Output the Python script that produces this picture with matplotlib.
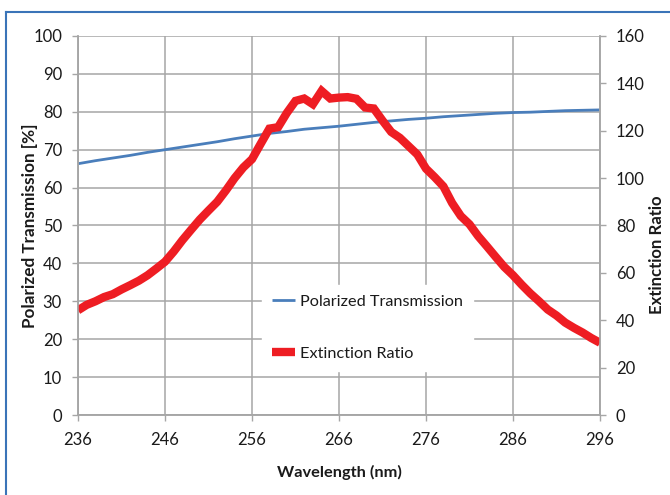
import matplotlib
matplotlib.use("Agg")
import matplotlib.pyplot as plt
from matplotlib.lines import Line2D

plt.rcParams['font.family'] = ['Lato', 'DejaVu Sans']

# ---- data ----
wl_pt = [236, 238, 240, 242, 244, 246, 248, 250, 252, 254, 256, 258, 260, 262,
         264, 266, 268, 270, 272, 274, 276, 278, 280, 282, 284, 286, 288, 290,
         292, 294, 296]
pol_trans = [66.3, 67.1, 67.8, 68.5, 69.3, 70.0, 70.7, 71.4, 72.1, 72.9, 73.6,
             74.3, 74.8, 75.4, 75.8, 76.2, 76.7, 77.2, 77.6, 78.0, 78.3, 78.7,
             79.0, 79.3, 79.6, 79.8, 79.9, 80.1, 80.3, 80.4, 80.5]

wl_er = [236, 237, 238, 239, 240, 241, 242, 243, 244, 245, 246, 247, 248, 249,
         250, 251, 252, 253, 254, 255, 256, 257, 258, 259, 260, 261, 262, 263,
         264, 265, 266, 267, 268, 269, 270, 271, 272, 273, 274, 275, 276, 277,
         278, 279, 280, 281, 282, 283, 284, 285, 286, 287, 288, 289, 290, 291,
         292, 293, 294, 295, 296]
ext_ratio = [44.2, 46.5, 48.0, 49.8, 51.0, 53.0, 54.8, 56.7, 59.0, 61.8, 64.7,
             69.0, 73.8, 78.2, 82.5, 86.3, 90.0, 94.8, 100.0, 104.5, 108.0,
             114.5, 120.9, 121.5, 127.5, 132.6, 133.6, 131.2, 136.8, 133.6,
             134.0, 134.2, 133.5, 129.8, 129.4, 124.3, 119.5, 117.0, 113.5,
             110.0, 104.0, 100.4, 96.5, 89.5, 84.0, 80.5, 75.5, 71.2, 66.8,
             62.5, 59.0, 55.0, 51.3, 48.0, 44.5, 42.0, 39.0, 36.8, 34.8, 32.5,
             30.5]

x_ticks = [236, 246, 256, 266, 276, 286, 296]
y_ticks = [0, 10, 20, 30, 40, 50, 60, 70, 80, 90, 100]
y2_ticks = [0, 20, 40, 60, 80, 100, 120, 140, 160]

blue = '#4a7ebb'
red = '#ee1d23'
grid_c = '#a6a6a6'
txt_c = '#1a1a1a'

fig = plt.figure(figsize=(6.7, 4.95), dpi=100)
ax = fig.add_axes([78/670, 1-415/495, 522/670, 379/495])
ax2 = ax.twinx()

ax.plot(wl_pt, pol_trans, color=blue, lw=2.0, label='Polarized Transmission',
        solid_capstyle='butt')
ax2.plot(wl_er, ext_ratio, color=red, lw=6.0, label='Extinction Ratio',
         solid_joinstyle='miter', solid_capstyle='butt')

ax.set_xlim(236, 296)
ax.set_ylim(0, 100)
ax2.set_ylim(0, 160)
ax.set_xticks(x_ticks)
ax.set_yticks(y_ticks)
ax2.set_yticks(y2_ticks)

ax.grid(True, color=grid_c, lw=1.1)
ax.set_axisbelow(True)

for a in (ax, ax2):
    for s in a.spines.values():
        s.set_color(grid_c)
        s.set_linewidth(1.1)
    a.spines['top'].set_visible(False)

ax.tick_params(axis='both', colors=grid_c, labelcolor=txt_c, labelsize=12,
               length=4.5, width=1.0)
ax.tick_params(axis='y', pad=7)
ax.tick_params(axis='x', pad=8)
ax2.tick_params(axis='y', colors=grid_c, labelcolor=txt_c, labelsize=12,
                length=4.5, width=1.0, pad=7)

ax.set_xlabel('Wavelength (nm)', fontsize=11.8, fontweight='bold', color=txt_c)
ax.xaxis.set_label_coords(0.5, -(472-415)/379)
ax.set_ylabel('Polarized Transmission [%]', fontsize=12.3, fontweight='bold',
              color=txt_c)
ax.yaxis.set_label_coords((30-78)/522, 0.5)
ax2.set_ylabel('Extinction Ratio', fontsize=12.1, fontweight='bold',
               color=txt_c, rotation=90)
ax2.yaxis.set_label_coords((657-78)/522, (415-255)/379)
ax.xaxis.label.set_va('center')
ax.yaxis.label.set_va('center')
ax2.yaxis.label.set_va('center')

h1, l1 = ax.get_legend_handles_labels()
h2, l2 = ax2.get_legend_handles_labels()
leg = ax2.legend(h1 + h2, l1 + l2, loc='upper left',
                 bbox_to_anchor=(262/670, 1-285/495),
                 bbox_transform=fig.transFigure,
                 frameon=True, fontsize=11.7, handlelength=1.4,
                 handletextpad=0.35, labelspacing=2.3, borderpad=0.6,
                 borderaxespad=0)
leg.get_frame().set_facecolor('white')
leg.get_frame().set_edgecolor('white')
leg.get_frame().set_alpha(1)
for t in leg.get_texts():
    t.set_color(txt_c)

# figure frame (left and top edges visible)
frame_c = '#3a74b8'
fig.add_artist(Line2D([6/670, 1.0], [1-12/495, 1-12/495],
                      transform=fig.transFigure, color=frame_c, lw=1.5))
fig.add_artist(Line2D([6/670, 6/670], [0, 1-12/495],
                      transform=fig.transFigure, color=frame_c, lw=1.5))

fig.savefig('out.png', dpi=100)
